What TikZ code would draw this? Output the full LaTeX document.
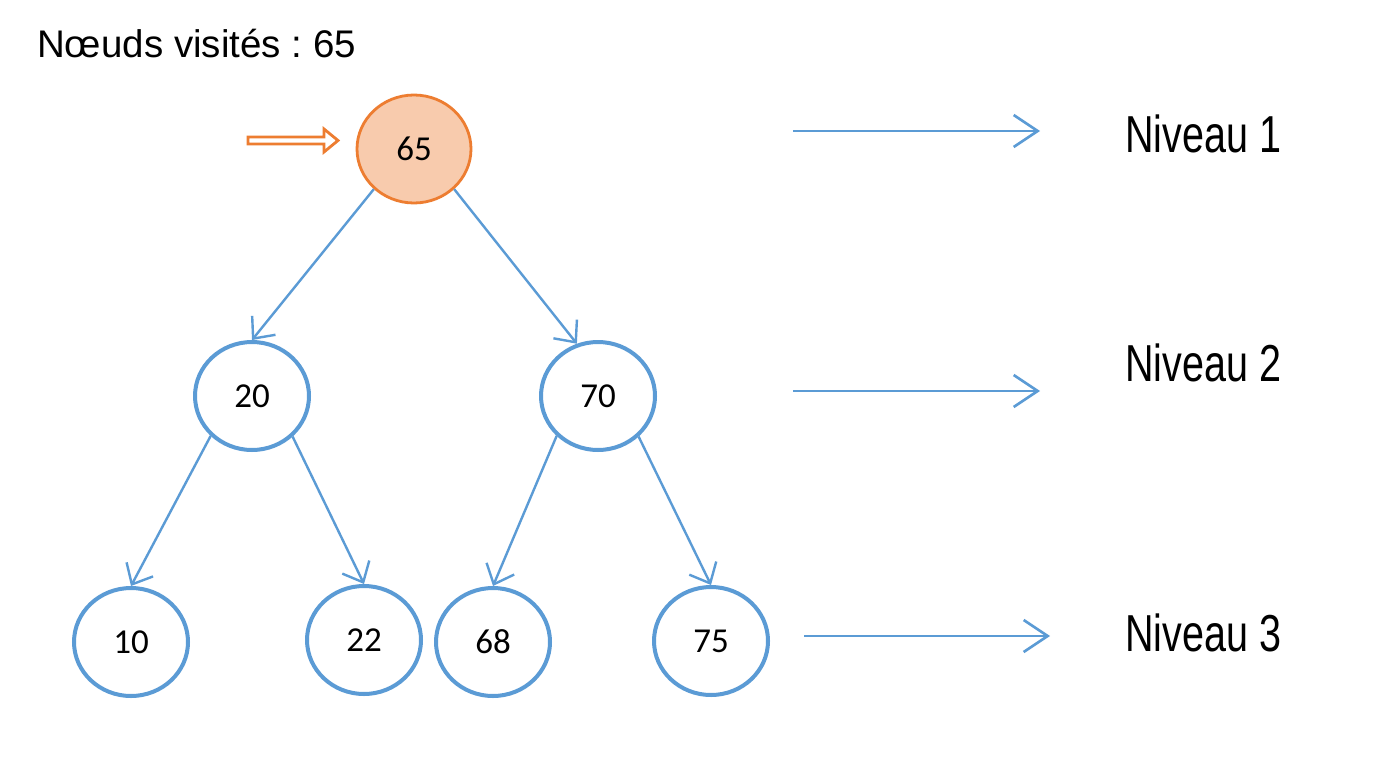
\documentclass[tikz,border=0pt]{standalone}
\usepackage{fontspec}
\setmainfont{Liberation Sans}
\newfontfamily\calib{Carlito}
\usetikzlibrary{arrows.meta,shapes.geometric}
\definecolor{blu}{HTML}{5B9BD5}
\definecolor{org}{HTML}{ED7D31}
\definecolor{orgfill}{HTML}{F8CBAD}
\frenchspacing
\begin{document}
\begin{tikzpicture}[x=1pt,y=-1pt,
  tnode/.style={ellipse, draw=blu, line width=4pt, fill=white, minimum width=114pt, minimum height=108pt, inner sep=0pt, font=\calib\fontsize{35}{40}\selectfont},
  rootnode/.style={tnode, draw=org, line width=2.8pt, fill=orgfill},
  edge/.style={draw=blu, line width=2.4pt, -{Straight Barb[length=17pt,width=30pt,line width=2.4pt]}},
  lvl/.style={draw=blu, line width=2.6pt, -{Straight Barb[length=24pt,width=32pt,line width=2.6pt]}},
  lvltext/.style={anchor=base west, inner sep=0pt, font=\fontsize{52}{60}\selectfont},
]
\fill[white] (0,0) rectangle (1388,768);
\useasboundingbox (0,0) rectangle (1388,768);

\node[anchor=base west, inner sep=0pt, font=\fontsize{38.5}{46}\selectfont] (title) at (37,58) {Nœuds visités : 65};

\node[rootnode] (n65) at (414,149) {65};
\node[tnode] (n20) at (252,396) {20};
\node[tnode] (n70) at (598,396) {70};
\node[tnode] (n10) at (131,642) {10};
\node[tnode] (n22) at (364,640) {22};
\node[tnode] (n68) at (493,642) {68};
\node[tnode] (n75) at (711,641) {75};

\draw[edge] (n65.225) -- (n20.north);
\draw[edge] (n65.315) -- (n70.112);
\draw[edge] (n20.224) -- (n10.north);
\draw[edge] (n20.315) -- (n22.north);
\draw[edge] (n70.224) -- (n68.north);
\draw[edge] (n70.315) -- (n75.north);

\draw[org, line width=2.8pt, fill=white, line join=miter]
  (248,137) -- (324,137) -- (324,129) -- (338,140.5) -- (324,152) -- (324,144) -- (248,144) -- cycle;

\coordinate (l1a) at (793,131); \coordinate (l1b) at (1040,131);
\coordinate (l2a) at (793,391); \coordinate (l2b) at (1040,391);
\coordinate (l3a) at (804,636); \coordinate (l3b) at (1050,636);
\draw[lvl] (l1a) -- (l1b);
\draw[lvl] (l2a) -- (l2b);
\draw[lvl] (l3a) -- (l3b);

\node[lvltext] (t1) at (1125,152) {\scalebox{0.76}[1]{Niveau 1}};
\node[lvltext] (t2) at (1125,381) {\scalebox{0.76}[1]{Niveau 2}};
\node[lvltext] (t3) at (1125,651) {\scalebox{0.76}[1]{Niveau 3}};
\end{tikzpicture}
\end{document}
